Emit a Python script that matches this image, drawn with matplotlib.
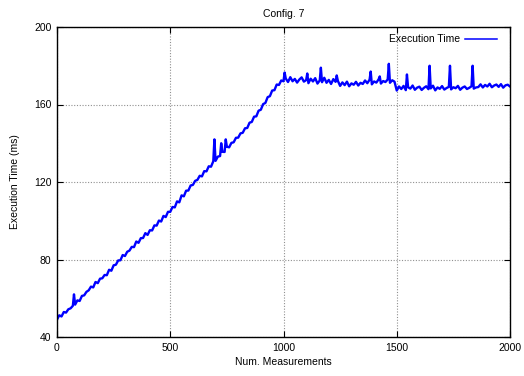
import numpy as np
import matplotlib
matplotlib.use("Agg")
import matplotlib.pyplot as plt

plt.rcParams['font.family'] = ['Liberation Sans', 'DejaVu Sans']

# Execution time (ms), one sample every 10 measurements (0..2000)
rise_ms = [
    49.0, 51.2, 50.6, 52.9, 52.6, 54.3, 54.8, 56.1, 56.7, 58.9,
    58.6, 61.2, 61.5, 63.3, 64.1, 66.0, 65.6, 68.4, 67.8, 70.1,
    70.3, 72.0, 71.9, 74.7, 74.2, 77.0, 77.3, 79.5, 79.6, 82.3,
    81.8, 84.0, 84.6, 86.5, 86.4, 89.3, 88.6, 91.0, 91.1, 93.6,
    92.7, 95.1, 95.0, 97.6, 97.5, 100.1, 99.6, 102.5, 101.9, 104.6,
    104.6, 107.1, 106.9, 110.0, 109.5, 113.1, 112.6, 115.5, 115.6, 118.2,
    118.5, 120.6, 121.1, 123.2, 122.9, 125.6, 125.5, 128.1, 127.9, 130.7,
    130.9, 133.1, 133.4, 135.6, 135.5, 138.2, 137.9, 140.2, 140.5, 142.8,
    142.9, 145.1, 145.4, 147.7, 147.9, 150.6, 151.0, 153.7, 153.9, 156.8,
    157.3, 160.2, 160.8, 163.8, 164.3, 167.2, 167.4, 170.3, 170.1, 172.4,
    172.0,
]
plateau_ms = [
    173.4, 171.6, 174.1, 172.0, 173.2, 171.3, 172.9, 174.0, 171.8,
    172.6, 171.0, 173.3, 171.9, 173.6, 170.8, 172.4, 171.5, 173.8, 171.2,
    172.7, 170.6, 173.1, 171.7, 172.2,
    169.6, 171.4, 170.0, 171.8, 169.4, 170.9, 170.2, 171.7, 169.8, 171.2,
    170.6, 172.4, 171.0, 172.8, 170.4, 171.9, 171.3, 173.0, 170.8, 172.1,
    171.6, 172.9, 171.2, 172.5, 171.8,
    167.2, 169.3, 168.0, 169.6, 167.4, 168.9, 168.2, 169.8, 167.6, 168.7,
    169.2, 167.5, 168.6, 169.4, 167.9, 168.3, 169.7, 167.3, 168.8, 168.1,
    169.5, 167.7, 168.5, 169.1, 167.8, 168.9, 168.4, 169.6, 167.6, 168.7,
    169.3, 168.0, 168.6, 169.4, 168.2, 168.8,
    169.0, 170.4, 168.8, 170.1, 169.3, 170.7, 168.9, 169.8, 170.3, 169.1,
    170.5, 168.7, 169.9, 170.2, 169.3,
]
sample_step = 10

# Isolated outlier measurements
spike_at = [75, 695, 725, 745, 1005, 1105, 1165, 1235, 1385, 1425, 1465, 1545, 1645, 1735, 1835]
spike_ms = [62.0, 142.0, 140.0, 142.0, 176.5, 176.0, 179.0, 175.0, 177.0, 174.5, 181.0, 175.5, 180.0, 180.0, 180.0]

x_ticks = [0, 500, 1000, 1500, 2000]
y_ticks = [40, 80, 120, 160, 200]

times = np.array(rise_ms + plateau_ms)
idx = np.arange(len(times)) * sample_step
xs = np.concatenate([idx, spike_at])
ys = np.concatenate([times, spike_ms])
order = np.argsort(xs, kind="stable")
xs, ys = xs[order], ys[order]

fig = plt.figure(figsize=(5.24, 3.76), dpi=100)
ax = fig.add_axes([57 / 524, 39 / 376, 453 / 524, 310 / 376])

ax.plot(xs, ys, color="#0000ff", linewidth=1.7, label="Execution Time")

ax.set_xlim(0, 2000)
ax.set_ylim(40, 200)
ax.set_xticks(x_ticks)
ax.set_yticks(y_ticks)
ax.grid(True, color="#909090", linestyle=(0, (1, 1.5)), linewidth=0.8)
ax.tick_params(direction="in", top=True, right=True, length=4, width=0.8,
               labelsize=7.5, pad=4)
for s in ax.spines.values():
    s.set_linewidth(1.0)

ax.set_title("Config. 7", fontsize=7.5, pad=7)
ax.set_xlabel("Num. Measurements", fontsize=7.5, labelpad=3)
ax.set_ylabel("Execution Time (ms)", fontsize=7.5, labelpad=10)

leg = ax.legend(loc="upper right", bbox_to_anchor=(1 - 6 / 453, 1),
                frameon=False, fontsize=7.5, markerfirst=False,
                handlelength=3.0, handletextpad=0.5, borderaxespad=0.3)
leg.get_lines()[0].set_linewidth(1.1)

fig.savefig("out.png", dpi=100)
